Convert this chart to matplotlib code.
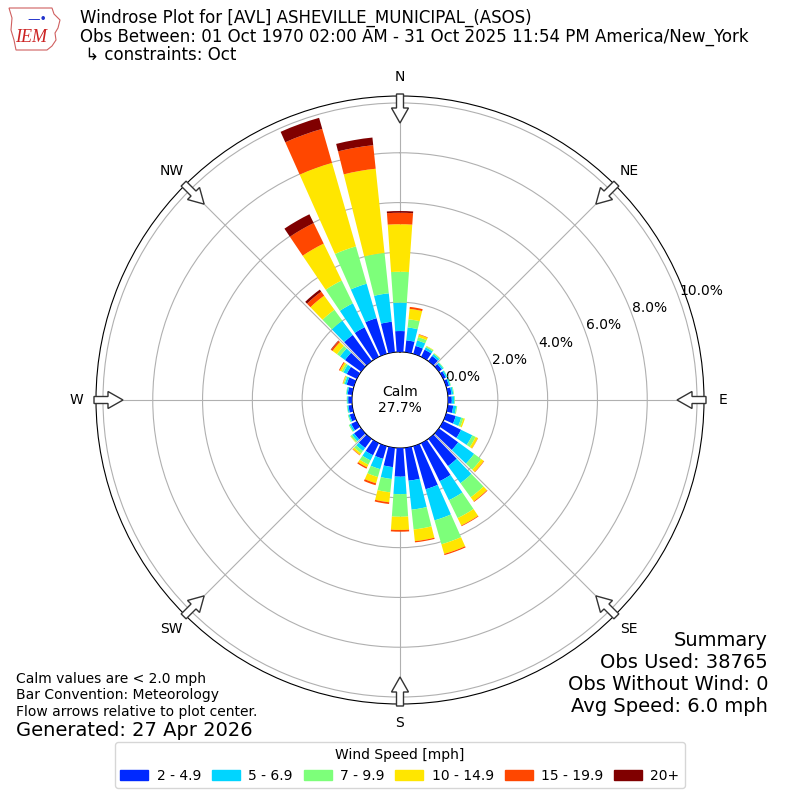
import numpy as np
import matplotlib
matplotlib.use("Agg")
import matplotlib.pyplot as plt
from matplotlib.patches import FancyArrow, Rectangle, Polygon

# direction bins (deg) and per-bin frequency (%) for each speed class
directions = list(range(0, 360, 10))
spd_2_5 = [0.84, 0.48, 0.33, 0.32, 0.26, 0.15, 0.12, 0.12, 0.15, 0.15, 0.22, 0.40,
           0.80, 0.96, 1.35, 1.70, 1.80, 1.33, 1.15, 0.78, 0.53, 0.54, 0.45, 0.35,
           0.25, 0.17, 0.15, 0.15, 0.18, 0.30, 0.45, 0.80, 1.30, 1.32, 1.49, 1.23]
spd_5_7 = [1.14, 0.52, 0.23, 0.10, 0.09, 0.07, 0.06, 0.06, 0.07, 0.10, 0.12, 0.23,
           0.50, 0.79, 0.85, 0.85, 1.30, 1.17, 0.70, 0.48, 0.43, 0.23, 0.15, 0.10,
           0.07, 0.05, 0.05, 0.04, 0.05, 0.08, 0.15, 0.25, 0.71, 1.07, 1.44, 1.15]
spd_7_10 = [1.24, 0.33, 0.14, 0.05, 0.04, 0.03, 0.02, 0.02, 0.03, 0.03, 0.04, 0.09,
            0.15, 0.35, 0.70, 0.80, 1.00, 0.80, 0.91, 0.54, 0.33, 0.19, 0.12, 0.07,
            0.04, 0.03, 0.02, 0.02, 0.02, 0.05, 0.08, 0.15, 0.54, 1.02, 1.56, 1.63]
spd_10_15 = [1.91, 0.42, 0.10, 0.02, 0.01, 0.00, 0.00, 0.00, 0.00, 0.00, 0.00, 0.06,
             0.10, 0.13, 0.20, 0.33, 0.40, 0.47, 0.53, 0.40, 0.26, 0.12, 0.08, 0.02,
             0.00, 0.00, 0.00, 0.00, 0.00, 0.03, 0.08, 0.22, 0.70, 1.65, 3.49, 3.40]
spd_15_20 = [0.46, 0.08, 0.02, 0.00, 0.00, 0.00, 0.00, 0.00, 0.00, 0.00, 0.00, 0.00,
             0.01, 0.02, 0.03, 0.03, 0.05, 0.05, 0.07, 0.07, 0.08, 0.06, 0.02, 0.00,
             0.00, 0.00, 0.00, 0.00, 0.00, 0.01, 0.04, 0.07, 0.20, 0.92, 1.42, 0.95]
spd_20 = [0.07, 0.00, 0.00, 0.00, 0.00, 0.00, 0.00, 0.00, 0.00, 0.00, 0.00, 0.00,
          0.00, 0.00, 0.00, 0.00, 0.00, 0.00, 0.00, 0.00, 0.00, 0.00, 0.00, 0.00,
          0.00, 0.00, 0.00, 0.00, 0.00, 0.00, 0.00, 0.02, 0.10, 0.39, 0.46, 0.31]
speed_labels = ["2 - 4.9", "5 - 6.9", "7 - 9.9", "10 - 14.9", "15 - 19.9", "20+"]
calm_pct = 27.7
compass = ["N", "NE", "E", "SE", "S", "SW", "W", "NW"]
summary = ["Summary", "Obs Used: 38765", "Obs Without Wind: 0", "Avg Speed: 6.0 mph"]

series = [spd_2_5, spd_5_7, spd_7_10, spd_10_15, spd_15_20, spd_20]
colors = plt.get_cmap("jet")(np.linspace(0, 1, 7))[1:]

fig = plt.figure(figsize=(8, 8), dpi=100)
ax = fig.add_axes([0.12, 0.12, 0.76, 0.76], projection="polar")
ax.set_theta_zero_location("N")
ax.set_theta_direction(-1)

theta = np.deg2rad(directions)
bottom = np.zeros(len(directions))
for vals, col in zip(series, colors):
    vals = np.array(vals)
    ax.bar(theta, vals, width=np.deg2rad(8), bottom=bottom, color=col,
           linewidth=0, zorder=3)
    bottom += vals

ax.set_ylim(0, 10.28)
ax.set_rorigin(-1.93)
ax.set_yticks([0, 2, 4, 6, 8, 10])
ax.set_yticklabels([f"{v:.1f}%" for v in [0, 2, 4, 6, 8, 10]], fontsize=10)
ax.set_rlabel_position(70)
ax.set_xticks(np.deg2rad(np.arange(0, 360, 45)))
ax.set_xticklabels(compass, fontsize=10)
ax.tick_params(axis="x", pad=3.5)
ax.grid(True, color="#b0b0b0", lw=0.8)

ax.text(0.5, 0.5, f"Calm\n{calm_pct:.1f}%", transform=ax.transAxes,
        ha="center", va="center", fontsize=10, zorder=5)

# flow arrows at compass points
for b in range(0, 360, 45):
    rad = np.deg2rad(b)
    ux, uy = np.sin(rad), np.cos(rad)
    r0, r1 = 306 / 800, 277 / 800
    arr = FancyArrow(0.5 + r0 * ux, 0.5 + r0 * uy, (r1 - r0) * ux, (r1 - r0) * uy,
                     width=7 / 800, head_width=17 / 800, head_length=15 / 800,
                     length_includes_head=True, fc="white", ec="#333333", lw=1,
                     transform=fig.transFigure, zorder=10)
    fig.add_artist(arr)

# header
fig.text(0.1, 1 - 18 / 800, "Windrose Plot for [AVL] ASHEVILLE_MUNICIPAL_(ASOS)",
         fontsize=12, va="center")
fig.text(0.1, 1 - 37 / 800,
         "Obs Between: 01 Oct 1970 02:00 AM - 31 Oct 2025 11:54 PM America/New_York",
         fontsize=12, va="center")
fig.text(0.1, 1 - 55 / 800, " \u21b3 constraints: Oct", fontsize=12, va="center")

# rough IEM logo: state outline + text
outline_px = [(9, 8), (52, 8), (54, 14), (60, 20), (58, 28), (55, 33), (56, 40),
              (52, 46), (47, 50), (16, 50), (14, 40), (11, 30), (12, 18)]
logo = Polygon([(x / 800, 1 - y / 800) for x, y in outline_px], closed=True,
               fill=False, ec="#d06060", lw=0.8, transform=fig.transFigure)
fig.add_artist(logo)
fig.text(0.019, 1 - 38 / 800, "IEM", color="#cc2222", fontsize=13, style="italic",
         family="Liberation Serif", va="center")
fig.text(0.047, 1 - 19 / 800, "\u2014\u2022", color="#2233cc", fontsize=9,
         va="center", ha="center")

# footer notes
notes = ["Calm values are < 2.0 mph", "Bar Convention: Meteorology",
         "Flow arrows relative to plot center."]
for i, line in enumerate(notes):
    fig.text(0.02, 1 - (679 + 16.5 * i) / 800, line, fontsize=10, va="center")
fig.text(0.02, 1 - 730 / 800, "Generated: 27 Apr 2026", fontsize=14, va="center")

for i, line in enumerate(summary):
    fig.text(0.96, 1 - (640 + 22 * i) / 800, line, fontsize=14, ha="right",
             va="center")

handles = [Rectangle((0, 0), 1, 1, color=c) for c in colors]
fig.legend(handles, speed_labels, ncol=6, loc="lower center",
           bbox_to_anchor=(0.5, 0.006), title="Wind Speed [mph]", fontsize=10,
           title_fontsize=10, columnspacing=0.8, handletextpad=0.6)

fig.savefig("out.png", dpi=100)
